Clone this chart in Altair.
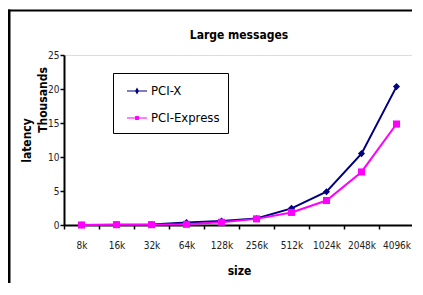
import altair as alt
import pandas as pd

sizes = ["8k", "16k", "32k", "64k", "128k", "256k", "512k", "1024k", "2048k", "4096k"]
pcix = [0.0, 0.05, 0.08, 0.35, 0.6, 0.95, 2.45, 4.9, 10.5, 20.35]
pcie = [0.0, 0.05, 0.05, 0.1, 0.4, 0.9, 1.85, 3.6, 7.8, 14.85]
series = ["PCI-X", "PCI-Express"]
colors = ["#000080", "#FF00FF"]

FONT = "DejaVu Sans Condensed"

rows = []
for s, vals in zip(series, [pcix, pcie]):
    for k, v in zip(sizes, vals):
        rows.append({"size": k, "series": s, "latency": v})
df = pd.DataFrame(rows)

xenc = alt.X("size:N", sort=sizes, bandPosition=0.5,
             scale=alt.Scale(type="band", domain=sizes, paddingInner=0, paddingOuter=0),
             axis=alt.Axis(title="size", tickBand="extent", tickSize=4, tickColor="black",
                           domainColor="black", domainWidth=2, tickWidth=1.5,
                           labelFont=FONT, labelFontSize=10, labelColor="#222",
                           labelPadding=11, labelAngle=0, grid=False,
                           titleFont=FONT, titleFontSize=12, titleFontWeight="bold",
                           titlePadding=15))
yenc = alt.Y("latency:Q",
             scale=alt.Scale(domain=[0, 25], nice=False),
             axis=alt.Axis(title="latency", values=[0, 5, 10, 15, 20, 25], tickSize=4,
                           tickColor="black", domainColor="black", domainWidth=2,
                           tickWidth=1.5, labelFont=FONT, labelFontSize=10,
                           labelColor="#222", labelPadding=1, grid=False,
                           titleFont=FONT, titleFontSize=12, titleFontWeight="bold",
                           titleX=-38, titleY=85, titleAngle=270,
                           titleAlign="center", titleBaseline="middle"))
cscale = alt.Scale(domain=series, range=colors)

lines = alt.Chart(df).mark_line(strokeWidth=2).encode(
    x=xenc, y=yenc,
    color=alt.Color("series:N", scale=cscale, legend=None),
    detail="series:N",
)
points = alt.Chart(df).mark_point(filled=True, opacity=1, size=50).encode(
    x=xenc, y=yenc,
    color=alt.Color("series:N", scale=cscale, legend=None),
    shape=alt.Shape("series:N", scale=alt.Scale(domain=series, range=["diamond", "square"]),
                    legend=None),
)

pathX = "M-1,-0.06H1V0.06H-1Z M0,-0.36L0.2,0L0,0.36L-0.2,0Z"
pathE = "M-1,-0.06H1V0.06H-1Z M-0.19,-0.19H0.19V0.19H-0.19Z"
legend_layer = alt.Chart(df).mark_point(filled=True, opacity=1).encode(
    color=alt.Color("series:N", scale=alt.Scale(domain=series, range=colors),
                    legend=alt.Legend(title=None, orient="none", legendX=49, legendY=18,
                                      strokeColor="black", padding=8,
                                      symbolSize=400, symbolOffset=6, symbolStrokeWidth=0,
                                      symbolOpacity=1, labelOffset=4,
                                      labelFont=FONT, labelFontSize=13, labelColor="black",
                                      rowPadding=10, labelLimit=200)),
    shape=alt.Shape("series:N", scale=alt.Scale(domain=series, range=[pathX, pathE])),
).transform_filter("false")

one = pd.DataFrame({"a": [0]})
top_border = alt.Chart(one).mark_rect(fill="black", strokeWidth=0).encode(
    x=alt.value(-56), x2=alt.value(348), y=alt.value(-45.5), y2=alt.value(-43.5))
left_border = alt.Chart(one).mark_rect(fill="black", strokeWidth=0).encode(
    x=alt.value(-56), x2=alt.value(-53.5), y=alt.value(-45.5), y2=alt.value(228))

thousands = alt.Chart(pd.DataFrame({"t": ["Thousands"]})).mark_text(
    angle=270, font=FONT, fontSize=12, fontWeight="bold", color="black",
    align="center", baseline="middle"
).encode(text="t:N", x=alt.value(-21), y=alt.value(45))

title = alt.Chart(pd.DataFrame({"t": ["Large messages"]})).mark_text(
    font=FONT, fontSize=12, fontWeight="bold", color="black",
    align="center", baseline="middle"
).encode(text="t:N", x=alt.value(175), y=alt.value(-20))

chart = alt.layer(top_border, left_border, lines, points, legend_layer, thousands, title).resolve_scale(
    color="independent", shape="independent"
).properties(
    width=350, height=170,
    autosize=alt.AutoSizeParams(type="none"),
    padding={"left": 56, "top": 47, "right": -2, "bottom": 58},
).configure_view(strokeWidth=0).configure(background="white")

chart.save("out.html", embed_options={"renderer": "svg", "actions": False})
